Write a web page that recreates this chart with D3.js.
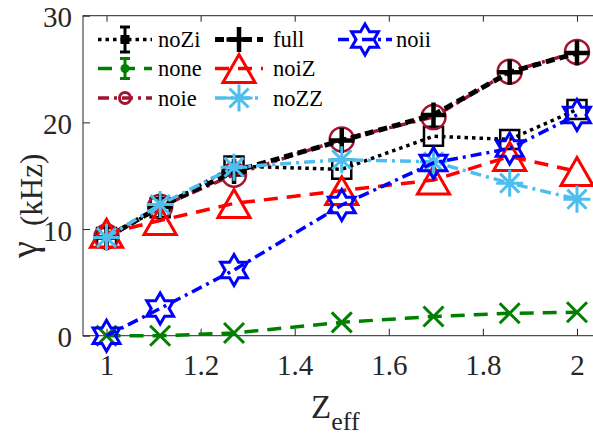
<!DOCTYPE html>
<html>
<head>
<meta charset="utf-8">
<script src="https://cdn.jsdelivr.net/npm/d3@7"></script>
<style>
  html, body { margin: 0; padding: 0; background: #fff; }
  svg { display: block; }
</style>
</head>
<body>
<svg id="chart" width="593" height="437"></svg>
<script>
// Growth rate versus effective charge for each model variant
const zeff = [1, 1.114, 1.271, 1.5, 1.695, 1.857, 2];

const noZi = [9.2, 12.0, 15.9, 15.6, 18.7, 18.4, 21.2];
const none = [0, 0, 0.25, 1.25, 1.8, 2.1, 2.2];
const noie = [9.3, 12.1, 15.1, 18.4, 20.5, 24.75, 26.6];
const full = [9.2, 12.1, 15.4, 18.3, 20.7, 24.7, 26.5];
const noiZ = [9.6, 10.8, 12.4, 13.6, 14.6, 16.8, 15.4];
const noZZ = [9.2, 12.3, 15.8, 16.5, 16.3, 14.3, 12.8];
const noii = [0, 2.55, 6.15, 12.25, 16.2, 17.55, 20.7];

const seriesNames = ["noZi", "none", "noie", "full", "noiZ", "noZZ", "noii"];
const seriesValues = [noZi, none, noie, full, noiZ, noZZ, noii];

const xTicks = [1, 1.2, 1.4, 1.6, 1.8, 2];
const yTicks = [0, 10, 20, 30];

// Drawing style per series (same order as seriesNames)
const styles = [
  { color: "#000000", width: 3.5, dash: "3.5,4",       marker: "square",   size: 19, mw: 2.5, legendMarker: "errSquare" },
  { color: "#008000", width: 3.5, dash: "14,9",        marker: "x",        size: 20, mw: 3,   legendMarker: "errDot" },
  { color: "#A2142F", width: 3.5, dash: "11,5,3,5",    marker: "circle",   size: 24, mw: 2.5, legendMarker: "smallCircle" },
  { color: "#000000", width: 5,   dash: "9,5",         marker: "plus",     size: 25, mw: 4.5, legendMarker: "plus" },
  { color: "#FF0000", width: 3.5, dash: "14,9",        marker: "triangle", size: 30, mw: 3,   legendMarker: "triangle" },
  { color: "#4DBEEE", width: 3.5, dash: "11,5,3,5",    marker: "asterisk", size: 27, mw: 3,   legendMarker: "asterisk" },
  { color: "#0000FF", width: 3.5, dash: "11,5,3,5",    marker: "hexagram", size: 31, mw: 3,   legendMarker: "hexagram" }
];

const fontFamily = "'Liberation Serif', 'DejaVu Serif', serif";

(function draw() {
  const svg = d3.select("#chart");
  const W = 593, H = 437;
  svg.append("rect").attr("width", W).attr("height", H).attr("fill", "#fff");

  const plotLeft = 83, plotTop = 15.7, plotBottom = 335.7;
  const x = d3.scaleLinear().domain([0.95, 2.05]).range([plotLeft, 600.5]);
  const y = d3.scaleLinear().domain([0, 30]).range([plotBottom, plotTop]);

  const axisColor = "#262626";

  // Marker outline paths, centred on the origin
  function markerPath(type, s) {
    const h = s / 2;
    const p = d3.path();
    if (type === "square") {
      p.rect(-h, -h, s, s);
    } else if (type === "circle") {
      p.moveTo(h, 0); p.arc(0, 0, h, 0, 2 * Math.PI); p.closePath();
    } else if (type === "plus") {
      p.moveTo(-h, 0); p.lineTo(h, 0); p.moveTo(0, -h); p.lineTo(0, h);
    } else if (type === "x") {
      p.moveTo(-h, -h); p.lineTo(h, h); p.moveTo(-h, h); p.lineTo(h, -h);
    } else if (type === "asterisk") {
      const d = h * Math.SQRT1_2;
      p.moveTo(-h, 0); p.lineTo(h, 0); p.moveTo(0, -h); p.lineTo(0, h);
      p.moveTo(-d, -d); p.lineTo(d, d); p.moveTo(-d, d); p.lineTo(d, -d);
    } else if (type === "triangle") {
      const w = s * 1.07, ht = s * 0.93;
      p.moveTo(0, -ht / 2); p.lineTo(w / 2, ht / 2); p.lineTo(-w / 2, ht / 2); p.closePath();
    } else if (type === "hexagram") {
      const R = h, r = h / Math.sqrt(3);
      for (let k = 0; k < 12; k++) {
        const a = -Math.PI / 2 + k * Math.PI / 6;
        const rr = k % 2 === 0 ? R : r;
        const px = rr * Math.cos(a), py = rr * Math.sin(a);
        if (k === 0) p.moveTo(px, py); else p.lineTo(px, py);
      }
      p.closePath();
    }
    return p.toString();
  }

  // Axes: ticks point inward, labels below / left
  const gx = svg.append("g").attr("transform", `translate(0,${plotBottom})`)
    .call(d3.axisBottom(x).tickValues(xTicks).tickSize(-7).tickPadding(19)
      .tickFormat(d3.format("")));
  const gxTop = svg.append("g").attr("transform", `translate(0,${plotTop})`)
    .call(d3.axisTop(x).tickValues(xTicks).tickSize(-6).tickFormat(""));
  const gy = svg.append("g").attr("transform", `translate(${plotLeft},0)`)
    .call(d3.axisLeft(y).tickValues(yTicks).tickSize(-7).tickPadding(11));

  [gx, gxTop, gy].forEach(g => {
    g.attr("font-family", fontFamily).attr("font-size", 29);
    g.select(".domain").remove();
    g.selectAll(".tick line").attr("stroke", axisColor).attr("stroke-width", 1);
    g.selectAll(".tick text").attr("fill", axisColor);
  });
  gy.selectAll(".tick text").attr("dy", "0.38em");

  // Axes box
  svg.append("rect")
    .attr("x", plotLeft).attr("y", plotTop)
    .attr("width", x.range()[1] - plotLeft).attr("height", plotBottom - plotTop)
    .attr("fill", "none").attr("stroke", axisColor).attr("stroke-width", 1);

  // Series lines and markers
  const plot = svg.append("g");
  const line = d3.line().x((d, i) => x(zeff[i])).y(d => y(d));

  seriesValues.forEach((vals, si) => {
    const st = styles[si];
    const g = plot.append("g").attr("class", "series-" + seriesNames[si]);
    g.append("path").datum(vals)
      .attr("d", line)
      .attr("fill", "none")
      .attr("stroke", st.color)
      .attr("stroke-width", st.width)
      .attr("stroke-dasharray", st.dash)
      .attr("stroke-linejoin", "round");
    g.selectAll("path.marker").data(vals).join("path")
      .attr("class", "marker")
      .attr("transform", (d, i) => `translate(${x(zeff[i])},${y(d)})`)
      .attr("d", markerPath(st.marker, st.size))
      .attr("fill", "none")
      .attr("stroke", st.color)
      .attr("stroke-width", st.mw)
      .attr("stroke-linejoin", "miter");
  });

  // Legend (three rows, column-major)
  const legCols = [{ x0: 98, x1: 152, tx: 158 }, { x0: 215, x1: 263, tx: 273 }, { x0: 338, x1: 392, tx: 396 }];
  const legRows = [39.5, 68.5, 98];
  const legend = svg.append("g");

  seriesNames.forEach((name, i) => {
    const st = styles[i];
    const c = legCols[Math.floor(i / 3)], ry = legRows[i % 3];
    const cx = (c.x0 + c.x1) / 2;
    const g = legend.append("g");
    g.append("line")
      .attr("x1", c.x0).attr("x2", c.x1).attr("y1", ry).attr("y2", ry)
      .attr("stroke", st.color).attr("stroke-width", st.width)
      .attr("stroke-dasharray", st.dash);
    const lm = st.legendMarker;
    if (lm === "errSquare" || lm === "errDot") {
      const eh = lm === "errSquare" ? 12.5 : 10;
      g.append("path")
        .attr("d", `M${cx},${ry - eh}V${ry + eh}M${cx - 5},${ry - eh}H${cx + 5}M${cx - 5},${ry + eh}H${cx + 5}`)
        .attr("stroke", st.color).attr("stroke-width", 3).attr("fill", "none");
      if (lm === "errSquare") {
        g.append("rect").attr("x", cx - 4.5).attr("y", ry - 4.5).attr("width", 9).attr("height", 9)
          .attr("fill", st.color);
      } else {
        g.append("circle").attr("cx", cx).attr("cy", ry).attr("r", 4.5).attr("fill", st.color);
      }
    } else if (lm === "smallCircle") {
      g.append("circle").attr("cx", cx).attr("cy", ry).attr("r", 5.5)
        .attr("fill", "none").attr("stroke", st.color).attr("stroke-width", 3);
    } else {
      g.append("path")
        .attr("transform", `translate(${cx},${ry})`)
        .attr("d", markerPath(lm, st.size))
        .attr("fill", "none").attr("stroke", st.color).attr("stroke-width", st.mw);
    }
    g.append("text")
      .attr("x", c.tx).attr("y", ry + 7.5)
      .attr("fill", "#000")
      .attr("font-family", fontFamily)
      .attr("font-size", 22.5)
      .text(name);
  });

  // Axis titles
  const xt = svg.append("text").attr("x", 311).attr("y", 418).attr("fill", axisColor)
    .attr("font-family", fontFamily).attr("font-size", 33);
  xt.append("tspan").text("Z");
  xt.append("tspan").attr("dy", 12).attr("font-size", 26).text("eff");

  svg.append("text")
    .attr("transform", "translate(37,258) rotate(-90)")
    .attr("fill", axisColor)
    .attr("font-family", fontFamily)
    .attr("font-size", 38)
    .text("γ");
  svg.append("text")
    .attr("transform", "translate(42,226) rotate(-90)")
    .attr("fill", axisColor)
    .attr("font-family", fontFamily)
    .attr("font-size", 31)
    .text("(kHz)");
})();
</script>
</body>
</html>
